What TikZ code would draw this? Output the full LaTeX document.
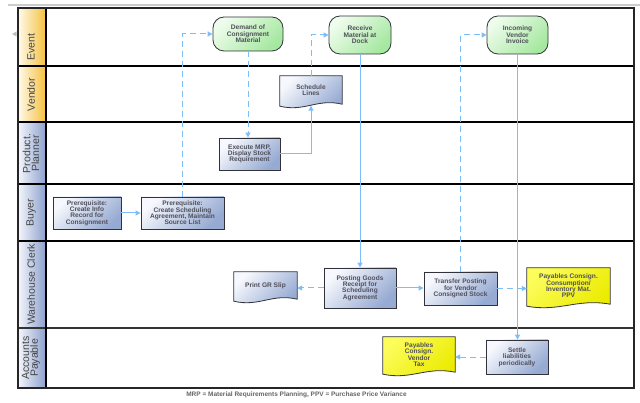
\documentclass[tikz,border=0pt]{standalone}
\usepackage{fontspec}
\setmainfont{Liberation Sans}
\usetikzlibrary{arrows.meta,calc}
\pgfdeclarelayer{bg}\pgfdeclarelayer{mid}
\pgfsetlayers{bg,mid,main}
\definecolor{conn}{RGB}{125,190,250}
\definecolor{ntext}{RGB}{80,80,92}
\definecolor{htext}{RGB}{70,70,70}
\definecolor{bluelo}{RGB}{150,170,210}
\definecolor{bluehi}{RGB}{246,248,253}
\definecolor{greenlo}{RGB}{165,232,160}
\definecolor{greenhi}{RGB}{238,252,235}
\definecolor{yel}{RGB}{235,235,0}
\definecolor{yelhi}{RGB}{252,252,90}
\definecolor{hdrorange}{RGB}{245,192,60}
\definecolor{hdrcream}{RGB}{255,250,236}
\definecolor{hdrblue}{RGB}{140,160,205}
\definecolor{hdrbluehi}{RGB}{244,246,252}
\definecolor{bord}{RGB}{50,50,60}
\newcommand\ndfont{\bfseries\fontsize{6.6}{6.4}\selectfont}
\newcommand\hdfont{\fontsize{10.5}{8.6}\selectfont}
\newcommand\docshape[2]{%
  \begin{pgfonlayer}{mid}
  \path[#2] (#1.north west) -- (#1.north east) -- (#1.south east)
    .. controls ($(#1.south west)!0.6!(#1.south east)+(0,-6)$) and ($(#1.south west)!0.4!(#1.south east)+(0,8)$) .. ($(#1.south west)+(0,2)$) -- cycle;
  \end{pgfonlayer}}
\tikzset{
  proc/.style={draw=bord, line width=0.8pt, top color=bluehi, bottom color=bluelo, shading angle=45,
    text=ntext, font=\ndfont, align=center, inner sep=1pt},
  evt/.style={draw=bord, line width=0.8pt, rounded corners=11pt, top color=greenhi, bottom color=greenlo, shading angle=45,
    text=ntext, font=\ndfont, align=center, inner sep=1pt},
  docn/.style={text=ntext, font=\ndfont, align=center, inner sep=1pt},
  bdoc/.style={draw=bord, line width=0.8pt, top color=bluehi, bottom color=bluelo, shading angle=45},
  ydoc/.style={draw=bord, line width=0.8pt, top color=yelhi, bottom color=yel, shading angle=45},
  hdr/.style={rotate=90, text=htext, font=\hdfont, align=center, inner sep=0pt},
  flow/.style={draw=conn, line width=1pt, -{Triangle[length=5pt,width=5pt]}},
  dflow/.style={flow, dash pattern=on 6pt off 4pt},
  lane/.style={draw=black, line width=1.5pt}
}
\begin{document}
\begin{tikzpicture}[x=1pt,y=-1pt]
\useasboundingbox (0,0) rectangle (640,403);
\begin{pgfonlayer}{bg}
\fill[white] (0,0) rectangle (640,403);
\draw[black!20, line width=2pt] (8,5.5) -- (640,5.5);
\fill[black!25] (12,34) -- (16.5,31.5) -- (16.5,36.5) -- cycle;
\shade[left color=hdrcream, right color=hdrorange] (18,8) rectangle (46,66);
\shade[left color=hdrcream, right color=hdrorange] (18,66) rectangle (46,122);
\shade[left color=hdrbluehi, right color=hdrblue] (18,122) rectangle (46,184);
\shade[left color=hdrbluehi, right color=hdrblue] (18,184) rectangle (46,241);
\shade[left color=hdrbluehi, right color=hdrblue] (18,241) rectangle (46,328);
\shade[left color=hdrbluehi, right color=hdrblue] (18,328) rectangle (46,388);
\draw[lane] (18,66) -- (634,66);
\draw[lane] (18,122) -- (634,122);
\draw[lane] (18,184) -- (634,184);
\draw[lane] (18,241) -- (634,241);
\draw[draw=black!80, line width=1.5pt] (18,328) -- (634,328);
\draw[lane] (46,8) -- (46,388);
\draw[draw=black!85, line width=1.4pt] (18,8) rectangle (634,388);
\end{pgfonlayer}

% lane headers
\node[hdr] (hEvent) at (31,47) {Event};
\node[hdr] (hVendor) at (31,94.5) {Vendor};
\node[hdr] (hPlanner) at (31,153.5) {Product.\\Planner};
\node[hdr] (hBuyer) at (31,212.5) {Buyer};
\node[hdr] (hClerk) at (31,284.5) {Warehouse Clerk};
\node[hdr] (hAP) at (31,358) {Accounts\\Payable};

% events
\node[evt, minimum width=70pt, minimum height=34pt] (dem) at (248,34) {Demand of\\Consignment\\Material};
\node[evt, minimum width=62pt, minimum height=38pt] (rcv) at (360,35) {Receive\\Material at\\Dock};
\node[evt, minimum width=61pt, minimum height=38pt] (inv) at (517.5,35) {Incoming\\Vendor\\Invoice};

% documents
\node[docn, minimum width=62pt, minimum height=28pt] (sl) at (311,90) {Schedule\\Lines};
\docshape{sl}{bdoc}
\node[docn, minimum width=63pt, minimum height=27pt] (gr) at (265.5,285.5) {Print GR Slip};
\docshape{gr}{bdoc}
\node[docn, minimum width=83pt, minimum height=36pt] (pc) at (568.5,286) {Payables Consign.\\Consumption/\\Inventory Mat.\\PPV};
\docshape{pc}{ydoc}
\node[docn, minimum width=72pt, minimum height=35pt] (vt) at (419,354.5) {Payables\\Consign.\\Vendor\\Tax};
\docshape{vt}{ydoc}

% processes
\node[proc, minimum width=61pt, minimum height=32pt] (mrp) at (249.5,154) {Execute MRP,\\Display Stock\\Requirement};
\node[proc, minimum width=68pt, minimum height=32pt] (pre1) at (87,213) {Prerequisite:\\Create Info\\Record for\\Consignment};
\node[proc, minimum width=83pt, minimum height=32pt] (pre2) at (182.5,213) {Prerequisite:\\Create Scheduling\\Agreement, Maintain\\Source List};
\node[proc, minimum width=72pt, minimum height=40pt] (pgr) at (360,288) {Posting Goods\\Receipt for\\Scheduling\\Agreement};
\node[proc, minimum width=73pt, minimum height=33pt] (tp) at (460.5,288.5) {Transfer Posting\\for Vendor\\Consigned Stock};
\node[proc, minimum width=62pt, minimum height=34pt] (stl) at (517,357) {Settle\\liabilities\\periodically};

% connectors
\draw[flow] (pre1.east) -- (pre2.west);
\draw[dflow] (pre2.north) |- (dem.west);
\draw[dflow] (dem.south) -- (dem.south |- mrp.north);
\draw[flow] (mrp.east) -| ($(sl.south)+(0,1.5)$);
\draw[dflow] (sl.north) |- (rcv.west);
\draw[flow] (rcv.south) -- (rcv.south |- pgr.north);
\draw[dflow] (pgr.west) -- (pgr.west -| gr.east);
\draw[flow] (pgr.east) -- (pgr.east -| tp.west);
\draw[dflow] (tp.north) |- (inv.west);
\draw[dflow] (tp.east) -- (tp.east -| pc.west);
\draw[flow] (inv.south) -- (inv.south |- stl.north);
\draw[dflow] (stl.west) -- (stl.west -| vt.east);

\node[text=black!60, font=\bfseries\fontsize{6.5}{6.5}\selectfont, inner sep=0pt] (foot) at (296.5,394.5)
  {MRP = Material Requirements Planning, PPV = Purchase Price Variance};
\end{tikzpicture}
\end{document}
